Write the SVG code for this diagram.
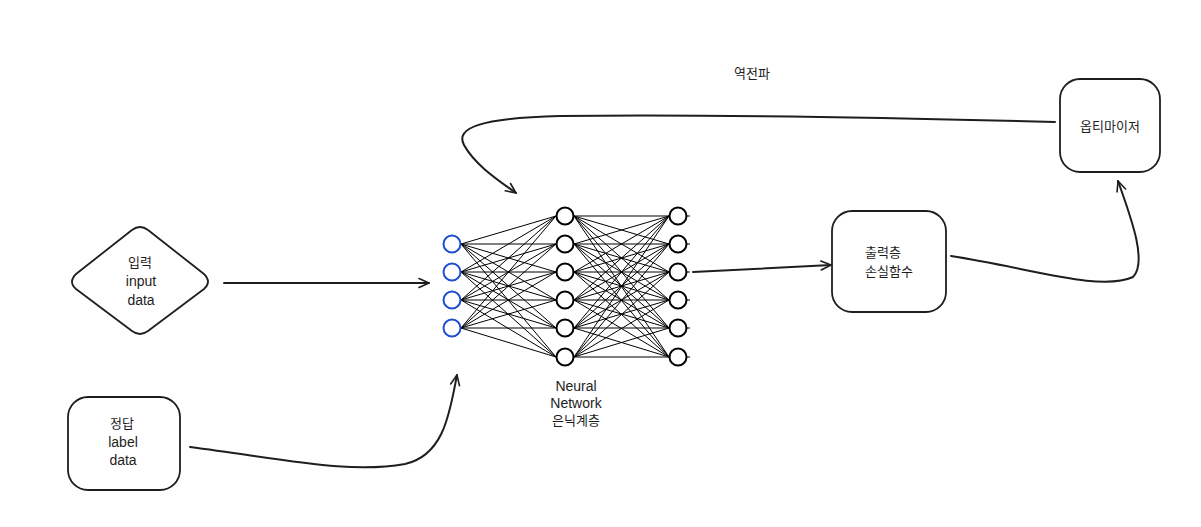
<svg xmlns="http://www.w3.org/2000/svg" width="1201" height="527" viewBox="0 0 1201 527">
  <style>
    .shape { fill: #ffffff; stroke: #1e1e1e; stroke-width: 1.8; stroke-linejoin: round; }
    .txt { font-family: "Liberation Sans", "Noto Sans CJK KR", sans-serif; font-size: 13px; fill: #1e1e1e; text-anchor: middle; dominant-baseline: central; }
    .lat { font-size: 14px; }
    .conn { fill: none; stroke: #1e1e1e; stroke-width: 2; stroke-linecap: round; }
    .edge { stroke: #000000; stroke-width: 1; }
    .neuron { fill: #ffffff; stroke: #000000; stroke-width: 2; }
    .neuron-in { fill: #ffffff; stroke: #1f4fd0; stroke-width: 2; }
  </style>
  <defs>
    <marker id="arrow" viewBox="0 0 12 12" refX="11" refY="6" markerWidth="12" markerHeight="12" markerUnits="userSpaceOnUse" orient="auto">
      <path d="M1,1.5 L11,6 L1,10.5" fill="none" stroke="#1e1e1e" stroke-width="1.6" stroke-linecap="round" stroke-linejoin="round"/>
    </marker>
  </defs>

  <rect width="1201" height="527" fill="#ffffff"/>

  <!-- connectors -->
  <g id="connectors">
    <path class="conn" d="M224,283 L429,283" marker-end="url(#arrow)"/>
    <path class="conn" d="M190,447 C 290,460 350,474 405,464 C 445,455 450,410 457,375" marker-end="url(#arrow)"/>
    <path class="conn" d="M693,272 L831,265" marker-end="url(#arrow)"/>
    <path class="conn" d="M951,256 C 1030,268 1100,292 1133,277 C 1148,262 1130,215 1118,181" marker-end="url(#arrow)"/>
    <path class="conn" d="M1055,122 C 900,118 700,114 560,116 C 480,118 455,128 464,145 C 475,165 498,180 516,193" marker-end="url(#arrow)"/>
  </g>

  <!-- input diamond -->
  <g id="node-input">
    <path class="shape" d="M76,274 L132,230 Q140,224 148,230 L204,274 Q212,282 204,289 L148,331 Q140,337 132,331 L76,289 Q68,282 76,274 Z"/>
    <text class="txt" x="140" y="262">입력</text>
    <text class="txt lat" x="141" y="281">input</text>
    <text class="txt lat" x="141" y="300">data</text>
  </g>

  <!-- label box -->
  <g id="node-label">
    <rect class="shape" x="68" y="397" width="112" height="93" rx="20" ry="20"/>
    <text class="txt" x="122" y="423">정답</text>
    <text class="txt lat" x="123" y="442">label</text>
    <text class="txt lat" x="123" y="460">data</text>
  </g>

  <!-- neural network -->
  <g id="node-network">
    <g id="nn-edges">
      <path class="edge" d="
        M461,244 L556,216 M461,244 L556,244 M461,244 L556,272 M461,244 L556,300 M461,244 L556,328 M461,244 L556,357
        M461,272 L556,216 M461,272 L556,244 M461,272 L556,272 M461,272 L556,300 M461,272 L556,328 M461,272 L556,357
        M461,300 L556,216 M461,300 L556,244 M461,300 L556,272 M461,300 L556,300 M461,300 L556,328 M461,300 L556,357
        M461,328 L556,216 M461,328 L556,244 M461,328 L556,272 M461,328 L556,300 M461,328 L556,328 M461,328 L556,357"/>
      <path class="edge" d="
        M574,216 L669,216 M574,216 L669,244 M574,216 L669,272 M574,216 L669,300 M574,216 L669,328 M574,216 L669,357
        M574,244 L669,216 M574,244 L669,244 M574,244 L669,272 M574,244 L669,300 M574,244 L669,328 M574,244 L669,357
        M574,272 L669,216 M574,272 L669,244 M574,272 L669,272 M574,272 L669,300 M574,272 L669,328 M574,272 L669,357
        M574,300 L669,216 M574,300 L669,244 M574,300 L669,272 M574,300 L669,300 M574,300 L669,328 M574,300 L669,357
        M574,328 L669,216 M574,328 L669,244 M574,328 L669,272 M574,328 L669,300 M574,328 L669,328 M574,328 L669,357
        M574,357 L669,216 M574,357 L669,244 M574,357 L669,272 M574,357 L669,300 M574,357 L669,328 M574,357 L669,357"/>
      <path class="edge" stroke-width="1.5" d="M687,216 L690,216 M687,244 L690,244 M687,272 L690,272 M687,300 L690,300 M687,328 L690,328 M687,357 L690,357"/>
    </g>
    <circle class="neuron-in" cx="452" cy="244" r="8.5"/>
    <circle class="neuron-in" cx="452" cy="272" r="8.5"/>
    <circle class="neuron-in" cx="452" cy="300" r="8.5"/>
    <circle class="neuron-in" cx="452" cy="328" r="8.5"/>
    <circle class="neuron" cx="565" cy="216" r="8.5"/>
    <circle class="neuron" cx="565" cy="244" r="8.5"/>
    <circle class="neuron" cx="565" cy="272" r="8.5"/>
    <circle class="neuron" cx="565" cy="300" r="8.5"/>
    <circle class="neuron" cx="565" cy="328" r="8.5"/>
    <circle class="neuron" cx="565" cy="357" r="8.5"/>
    <circle class="neuron" cx="678" cy="216" r="8.5"/>
    <circle class="neuron" cx="678" cy="244" r="8.5"/>
    <circle class="neuron" cx="678" cy="272" r="8.5"/>
    <circle class="neuron" cx="678" cy="300" r="8.5"/>
    <circle class="neuron" cx="678" cy="328" r="8.5"/>
    <circle class="neuron" cx="678" cy="357" r="8.5"/>
    <text class="txt lat" x="576" y="386">Neural</text>
    <text class="txt lat" x="576" y="403">Network</text>
    <text class="txt" x="576" y="420">은닉계층</text>
  </g>

  <!-- loss box -->
  <g id="node-loss">
    <rect class="shape" x="832" y="211" width="114" height="101" rx="20" ry="20"/>
    <text class="txt" x="883" y="252">출력층</text>
    <text class="txt" x="889" y="271">손실함수</text>
  </g>

  <!-- optimizer box -->
  <g id="node-optimizer">
    <rect class="shape" x="1060" y="79" width="100" height="93" rx="20" ry="20"/>
    <text class="txt" x="1110" y="126">옵티마이저</text>
  </g>

  <!-- backprop label -->
  <g id="label-backprop">
    <text class="txt" x="752" y="73">역전파</text>
  </g>
</svg>
